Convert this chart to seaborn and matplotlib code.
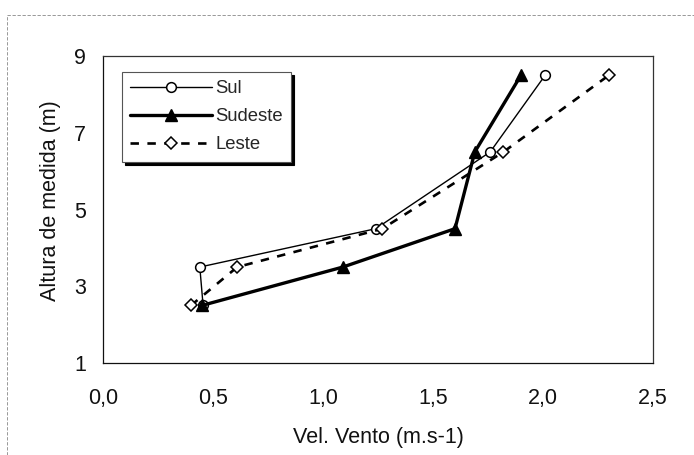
import numpy as np
import pandas as pd
import matplotlib
matplotlib.use("Agg")
import matplotlib.pyplot as plt
import seaborn as sns
from matplotlib.lines import Line2D

# ---- data ----
heights = [2.5, 3.5, 4.5, 6.5, 8.5]
sul = [0.455, 0.44, 1.24, 1.76, 2.01]
sudeste = [0.45, 1.09, 1.60, 1.69, 1.90]
leste = [0.40, 0.61, 1.27, 1.82, 2.30]
series_names = ["Sul", "Sudeste", "Leste"]
x_ticks = [0.0, 0.5, 1.0, 1.5, 2.0, 2.5]
x_ticklabels = ["0,0", "0,5", "1,0", "1,5", "2,0", "2,5"]
y_ticks = [1, 3, 5, 7, 9]

df = pd.concat([
    pd.DataFrame({"vel": sul, "alt": heights, "serie": "Sul"}),
    pd.DataFrame({"vel": sudeste, "alt": heights, "serie": "Sudeste"}),
    pd.DataFrame({"vel": leste, "alt": heights, "serie": "Leste"}),
], ignore_index=True)

sns.set_theme(style="white")
plt.rcParams['font.family'] = ['Liberation Sans', 'DejaVu Sans']

fig = plt.figure(figsize=(6.94, 4.55), dpi=100)
ax = fig.add_axes([103/694, 1-363/455, 550/694, 307/455])

styles = {
    "Sul": dict(lw=1.0, marker="o", ms=7.0, mfc="white", mec="black", mew=1.1, ls="-"),
    "Sudeste": dict(lw=2.4, marker="^", ms=8.5, mfc="black", mec="black", mew=1.0, ls="-"),
    "Leste": dict(lw=1.9, marker="D", ms=6.3, mfc="white", mec="black", mew=1.1, ls=(0, (3.2, 3.2))),
}

handles = []
for name in series_names:
    st = styles[name]
    sub = df[df["serie"] == name]
    sns.lineplot(data=sub, x="vel", y="alt", sort=False, estimator=None, ax=ax,
                 color="black", linewidth=st["lw"], linestyle=st["ls"],
                 marker=st["marker"], markersize=st["ms"], markerfacecolor=st["mfc"],
                 markeredgecolor=st["mec"], markeredgewidth=st["mew"], legend=False)
    handles.append(Line2D([], [], color="black", lw=st["lw"], ls=st["ls"],
                          marker=st["marker"], ms=st["ms"], mfc=st["mfc"],
                          mec=st["mec"], mew=st["mew"]))

ax.set_xlim(0, 2.5)
ax.set_ylim(1, 9)
ax.set_xticks(x_ticks)
ax.set_xticklabels(x_ticklabels)
ax.set_yticks(y_ticks)
ax.set_yticklabels([str(v) for v in y_ticks])
ax.tick_params(axis="x", direction="out", length=3, width=0.8, pad=15, labelsize=15.5, colors="#111")
ax.tick_params(axis="y", direction="out", length=3, width=0.8, pad=9, labelsize=15.5, colors="#111")
ax.set_xlabel("Vel. Vento (m.s-1)", fontsize=15.5, labelpad=13, color="#111")
ax.set_ylabel("Altura de medida (m)", fontsize=15.5, color="#111")
ax.yaxis.set_label_coords(-0.076, 0.53)

for s in ax.spines.values():
    s.set_visible(True)
    s.set_color("#333")
    s.set_linewidth(0.9)
ax.spines["left"].set_color("#111")
ax.spines["bottom"].set_color("#111")

leg = ax.legend(handles, series_names, loc="upper left",
                bbox_to_anchor=(19/550, 1-16/307), borderaxespad=0,
                fontsize=13.3, handlelength=4.4, handletextpad=0.2,
                labelspacing=0.6, borderpad=0.45, numpoints=1,
                frameon=True, fancybox=False, edgecolor="#555",
                shadow={"color": "black", "alpha": 1.0})
leg.get_frame().set_linewidth(0.8)

# outer chart-area border (top and left)
fig.add_artist(Line2D([7/694, 1.0], [1-15/455, 1-15/455], transform=fig.transFigure,
                      color="#888", lw=0.6, ls=(0, (4, 2))))
fig.add_artist(Line2D([7/694, 7/694], [0, 1-15/455], transform=fig.transFigure,
                      color="#888", lw=0.6, ls=(0, (4, 2))))

fig.savefig("out.png", dpi=100)
